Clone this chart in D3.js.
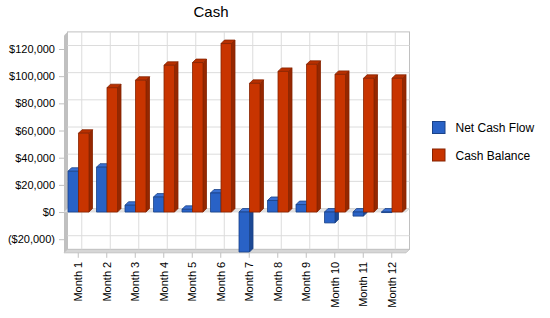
<!DOCTYPE html>
<html>
<head>
<meta charset="utf-8">
<script src="https://cdn.jsdelivr.net/npm/d3@7"></script>
<style>
  body { margin: 0; background: #fff; }
  svg { display: block; font-family: "Liberation Sans", Arial, sans-serif; }
</style>
</head>
<body>
<div id="chart"></div>
<script>
const months = ['Month 1', 'Month 2', 'Month 3', 'Month 4', 'Month 5', 'Month 6',
    'Month 7', 'Month 8', 'Month 9', 'Month 10', 'Month 11', 'Month 12'];
const netCashFlow = [30000, 33000, 5000, 11000, 2000, 14000, -29400, 8500, 5500, -8000, -3000, 0];
const cashBalance = [58000, 91500, 97000, 108000, 110000, 124000, 94700, 103500, 108700, 101300, 98400, 98400];
const yTicks = [-20000, 0, 20000, 40000, 60000, 80000, 100000, 120000];
const seriesNames = ['Net Cash Flow', 'Cash Balance'];

const width = 550, height = 318;
const depth = 3.5;
const plot = { left: 64, right: 406, top: 35.4, bottom: 252.8 };

const colors = [
    { front: '#2962c6', side: '#1c4894', top: '#3a70d2', stroke: '#1a4288' },
    { front: '#c83400', side: '#962700', top: '#b83000', stroke: '#862300' }
];

const svg = d3.select('#chart')
    .append('svg')
    .attr('width', width)
    .attr('height', height);

// Scales
const x = d3.scaleBand()
    .domain(months)
    .range([plot.left, plot.right]);

const inner = d3.scaleBand()
    .domain(seriesNames)
    .range([4, x.bandwidth() - 3.5])
    .padding(0);

const y = d3.scaleLinear()
    .domain([-30000, 130000])
    .range([plot.bottom, plot.top]);

// Left wall and floor
svg.append('polygon')
    .attr('points', [[plot.left, plot.top], [plot.left + depth, plot.top - depth],
        [plot.left + depth, plot.bottom - depth], [plot.left, plot.bottom]].join(' '))
    .attr('fill', '#c0c0c0');

svg.append('polygon')
    .attr('points', [[plot.left, plot.bottom], [plot.left + depth, plot.bottom - depth],
        [plot.right + depth, plot.bottom - depth], [plot.right, plot.bottom]].join(' '))
    .attr('fill', '#d6d6d6')
    .attr('stroke', '#c4c4c4')
    .attr('stroke-width', 1);

// Back wall
svg.append('rect')
    .attr('x', plot.left + depth)
    .attr('y', plot.top - depth)
    .attr('width', plot.right - plot.left)
    .attr('height', plot.bottom - plot.top)
    .attr('fill', '#fff')
    .attr('stroke', '#c0c0c0')
    .attr('stroke-width', 1);

// Gridlines on the back wall
svg.append('g')
    .selectAll('line')
    .data(yTicks)
    .enter()
    .append('line')
    .attr('x1', plot.left + depth)
    .attr('x2', plot.right + depth)
    .attr('y1', d => y(d) - depth)
    .attr('y2', d => y(d) - depth)
    .attr('stroke', '#dcdcdc');

svg.append('g')
    .selectAll('line')
    .data(months)
    .enter()
    .append('line')
    .attr('x1', d => x(d) + x.bandwidth() / 2 + depth)
    .attr('x2', d => x(d) + x.bandwidth() / 2 + depth)
    .attr('y1', plot.top - depth)
    .attr('y2', plot.bottom - depth)
    .attr('stroke', '#dcdcdc');

// Zero plane
svg.append('polygon')
    .attr('points', [[plot.left, y(0)], [plot.left + depth, y(0) - depth],
        [plot.right + depth, y(0) - depth], [plot.right, y(0)]].join(' '))
    .attr('fill', '#e4e4e4')
    .attr('stroke', '#d0d0d0')
    .attr('stroke-width', 0.6);

// Bars
const bars = svg.append('g');
months.forEach((m, i) => {
    [netCashFlow[i], cashBalance[i]].forEach((v, s) => {
        const c = colors[s];
        const x0 = x(m) + inner(seriesNames[s]);
        const x1 = x0 + inner.bandwidth();
        const yTop = y(Math.max(v, 0));
        const yBot = y(Math.min(v, 0));
        const g = bars.append('g')
            .attr('stroke', c.stroke)
            .attr('stroke-width', 0.8)
            .attr('stroke-linejoin', 'round');

        // side face
        g.append('polygon')
            .attr('points', [[x1, yTop], [x1 + depth, yTop - depth],
                [x1 + depth, yBot - depth], [x1, yBot]].join(' '))
            .attr('fill', c.side);

        // top face
        g.append('polygon')
            .attr('points', [[x0, yTop], [x0 + depth, yTop - depth],
                [x1 + depth, yTop - depth], [x1, yTop]].join(' '))
            .attr('fill', c.top);

        // front face
        g.append('rect')
            .attr('x', x0)
            .attr('y', yTop)
            .attr('width', x1 - x0)
            .attr('height', Math.max(yBot - yTop, 0.5))
            .attr('fill', c.front);
    });
});

// Y axis
const fmt = v => v < 0 ? `($${d3.format(',')(-v)})` : `$${d3.format(',')(v)}`;
const yAxis = svg.append('g')
    .attr('transform', `translate(${plot.left},0)`)
    .call(d3.axisLeft(y).tickValues(yTicks).tickFormat(fmt).tickSize(5).tickPadding(4));
yAxis.select('.domain').remove();
yAxis.selectAll('.tick line').attr('stroke', '#c0c0c0');
yAxis.selectAll('.tick text')
    .attr('fill', '#000')
    .style('font-size', '11px')
    .style('font-family', '"Liberation Sans", Arial, sans-serif');

// X axis
const xAxis = svg.append('g')
    .attr('transform', `translate(0,${plot.bottom})`)
    .call(d3.axisBottom(x).tickSize(5).tickPadding(5));
xAxis.select('.domain').remove();
xAxis.selectAll('.tick line').attr('stroke', '#c0c0c0');
xAxis.selectAll('.tick text')
    .attr('fill', '#000')
    .attr('transform', 'rotate(-90)')
    .attr('text-anchor', 'end')
    .attr('x', -9)
    .attr('y', 0)
    .attr('dy', '0.35em')
    .style('font-size', '11px')
    .style('font-family', '"Liberation Sans", Arial, sans-serif');

// Title
svg.append('text')
    .attr('x', 211)
    .attr('y', 17)
    .attr('text-anchor', 'middle')
    .style('font-size', '15px')
    .text('Cash');

// Legend
const legend = svg.append('g')
    .attr('transform', 'translate(432,121)');
seriesNames.forEach((name, i) => {
    const row = legend.append('g')
        .attr('transform', `translate(0,${i * 27.5})`);
    row.append('rect')
        .attr('x', 0.5)
        .attr('y', 0.5)
        .attr('width', 12.5)
        .attr('height', 12)
        .attr('fill', colors[i].front)
        .attr('stroke', colors[i].stroke);
    row.append('text')
        .attr('x', 23.5)
        .attr('y', 11)
        .style('font-size', '12px')
        .text(name);
});
</script>
</body>
</html>
